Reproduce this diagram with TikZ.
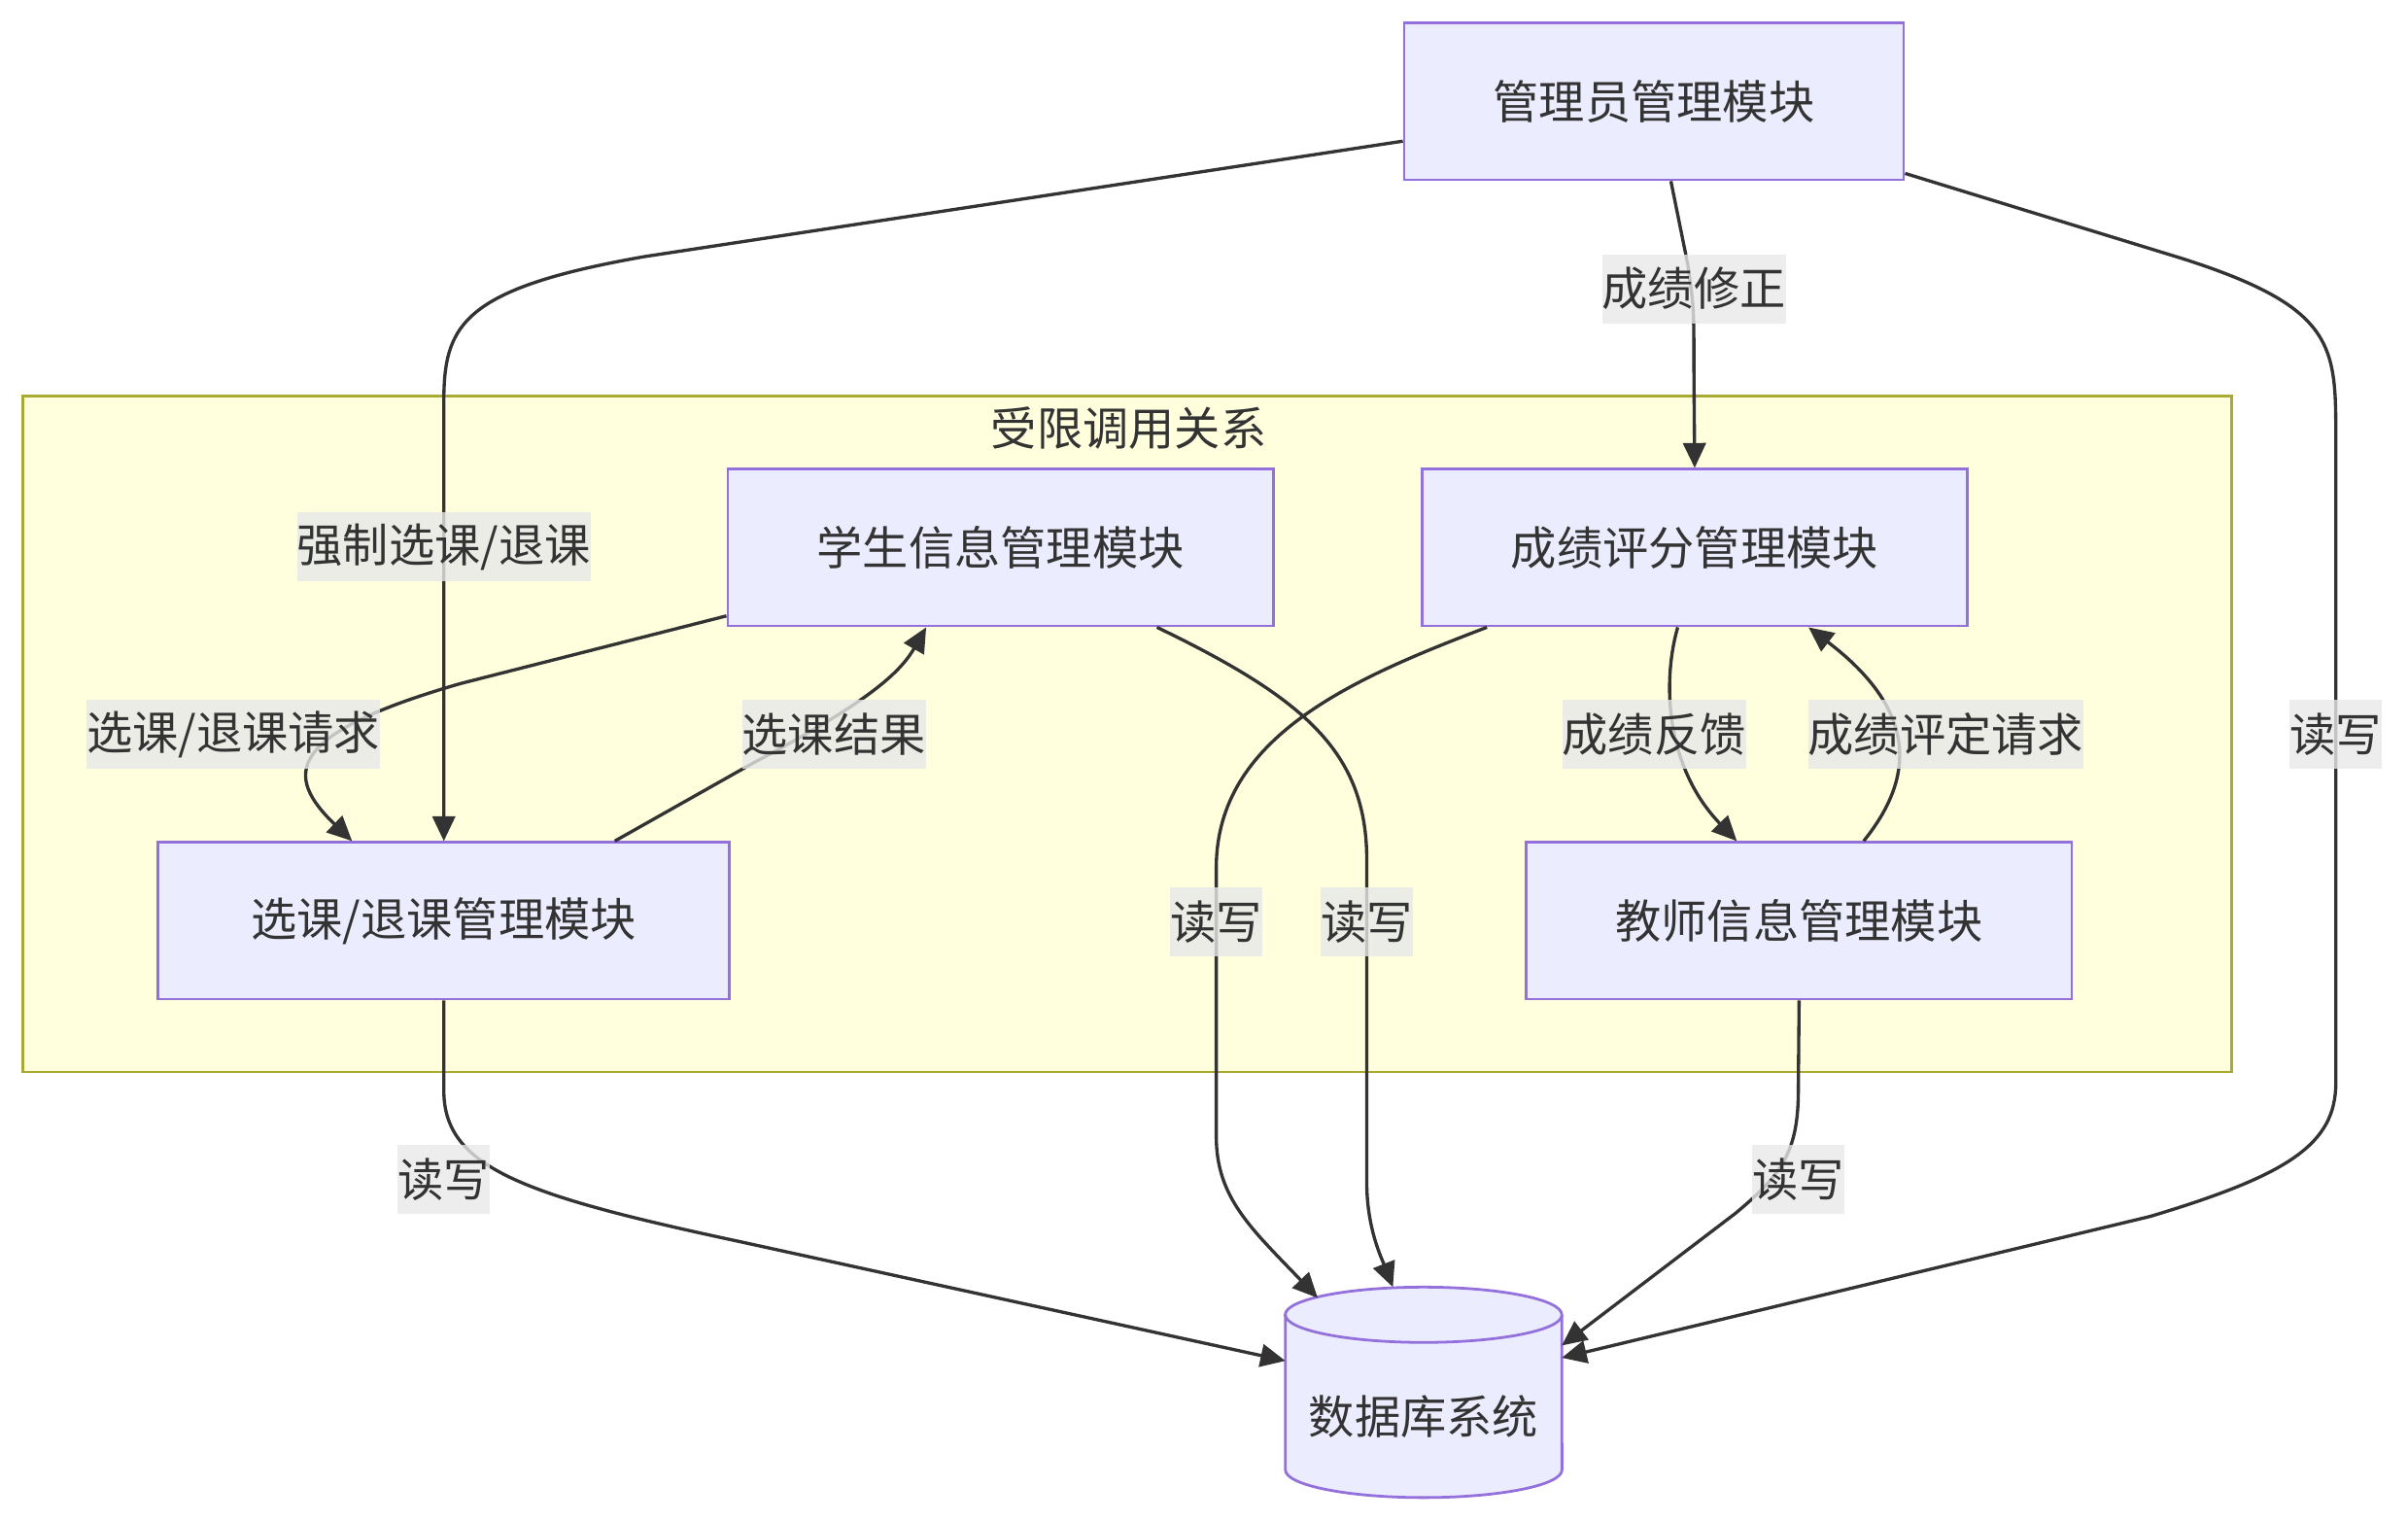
\documentclass[tikz,border=0pt]{standalone}
\usepackage{fontspec}
\setmainfont{Noto Sans CJK SC}
\usetikzlibrary{arrows.meta}
\definecolor{boxfill}{HTML}{ECECFF}
\definecolor{boxline}{HTML}{9370DB}
\definecolor{grpfill}{HTML}{FFFFDE}
\definecolor{grpline}{HTML}{AAAA33}
\definecolor{ink}{HTML}{333333}
\definecolor{lblfill}{HTML}{E8E8E8}

\begin{document}
\begin{tikzpicture}[x=0.01cm,y=-0.01cm,
          every node/.style={text=ink,font=\fontsize{8.5}{10}\selectfont},
          box/.style={draw=boxline,fill=boxfill,line width=0.5pt,inner xsep=0.58cm,
            inner ysep=0pt,minimum height=1.02cm},
          lbl/.style={fill=lblfill,fill opacity=0.8,text opacity=1,inner sep=0pt,minimum height=0.45cm},
          link/.style={draw=ink,line width=0.6pt,->},
          >={Triangle[length=4.6pt,width=4.2pt]}]
          \useasboundingbox(0,0)rectangle(1568,990);
          \draw[fill=grpfill,draw=grpline,line width=0.5pt](15,258)rectangle(1453,698);
          \node(grp)at(735,279){受限调用关系};
          \node[box](adm)at(1077,66){管理员管理模块};
          \node[box](stu)at(651.5,356.5){学生信息管理模块};
          \node[box](grd)at(1103.5,356.5){成绩评分管理模块};
          \node[box,minimum width=3.72cm](sel)at(289,599.5){选课/退课管理模块};
          \node[box](tch)at(1171.5,599.5){教师信息管理模块};
          % database cylinder
          \path[draw=boxline,fill=boxfill,line width=0.5pt](837,856)--(837,957)
             arc[start angle=180,end angle=360,x radius=0.9cm,y radius=0.18cm]--(1017,856)
             arc[start angle=0,end angle=180,x radius=0.9cm,y radius=0.18cm]--cycle;
          \draw[boxline,line width=0.5pt](837,856)arc[start angle=180,end angle=360,x radius=0.9cm,y radius=0.18cm];
          \coordinate(dbW)at(837,886);
          \coordinate(dbE1)at(1017,876);
          \coordinate(dbE2)at(1017,884);
          \coordinate(dbN1)at(858,845);
          \coordinate(dbN2)at(907,838);
          \node(db)at(927,922){数据库系统};
          % edges
          \draw[link](adm.189)--(420,167)..controls(300,188)and(289,212)..(289,262)--(sel.north);
          \draw[link](adm.282)--(1099,172)..controls(1103,200)..(1103,240)--(grd.north);
          \draw[link](adm.344)--(1420,168)..controls(1521,200)and(1521,225)..(1521,285)--(1521,705)
             ..controls(1521,745)and(1490,765)..(1400,792)--(dbE2);
          \draw[link](stu.194)--(300,445)..controls(185,478)and(185,505)..(sel.139);
          \draw[link](sel.25)--(490,497)..controls(560,460)and(585,440)..(stu.227);
          \draw[link](stu.333)..controls(850,455)and(890,490)..(890,560)--(890,770)
             ..controls(890,800)and(900,820)..(dbN2);
          \draw[link](grd.201)..controls(880,442)and(792,480)..(792,565)--(792,740)
             ..controls(792,780)and(815,800)..(dbN1);
          \draw[link](grd.258)..controls(1082,445)and(1085,500)..(tch.128);
          \draw[link](tch.51)..controls(1248,505)and(1248,462)..(grd.325);
          \draw[link](sel.south)--(289,710)..controls(289,760)and(340,778)..(480,808)--(dbW);
          \draw[link](tch.south)--(1171,710)..controls(1171,750)and(1160,765)..(1130,790)--(dbE1);
          % edge labels
          \node[lbl](l1)at(289,356){强制选课/退课};
          \node[lbl](l2)at(1103,188){成绩修正};
          \node[lbl](l3)at(1521,478){读写};
          \node[lbl](l4)at(152,478){选课/退课请求};
          \node[lbl](l5)at(543,478){选课结果};
          \node[lbl](l6)at(890,600){读写};
          \node[lbl](l7)at(792,600){读写};
          \node[lbl](l8)at(1077,478){成绩反馈};
          \node[lbl](l9)at(1267,478){成绩评定请求};
          \node[lbl](l10)at(289,768){读写};
          \node[lbl](l11)at(1171,768){读写};
        \end{tikzpicture}
\end{document}
